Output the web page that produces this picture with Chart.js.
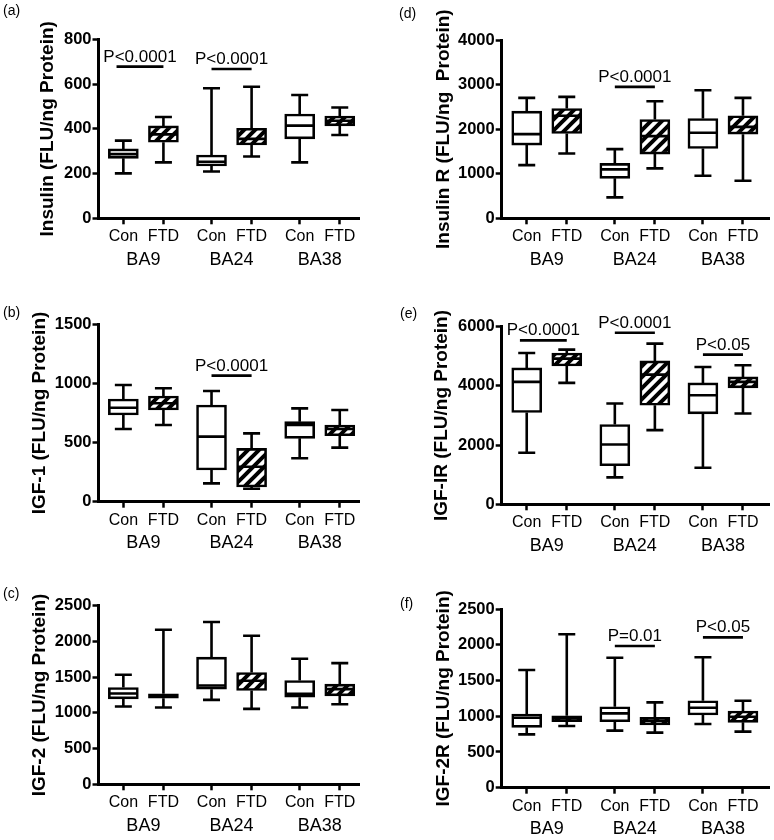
<!DOCTYPE html>
<html>
<head>
<meta charset="utf-8">
<script src="https://cdn.jsdelivr.net/npm/chart.js@4.4.1/dist/chart.umd.min.js"></script>
<style>
  body { margin: 0; background: #fff; }
  #wrap { position: relative; width: 774px; height: 840px; overflow: hidden; }
  .panel { position: absolute; width: 387px; height: 300px; }
  .tag { position: absolute; font: 14px "Liberation Sans", Arial, sans-serif; line-height: 16px; color: #000; }
</style>
</head>
<body>
<div id="wrap"></div>
<script>
const groups = ['BA9', 'BA24', 'BA38'];
const conditions = ['Con', 'FTD'];

// [min, q1, median, q3, max] for Con/FTD in BA9, BA24, BA38
const insulin = [
  [201, 268, 287, 310, 347], [250, 340, 375, 413, 453],
  [209, 234, 253, 283, 581], [276, 328, 355, 402, 588],
  [250, 355, 414, 466, 551], [372, 413, 436, 457, 495]
];
const igf1 = [
  [615, 733, 795, 868, 987], [648, 775, 832, 894, 959],
  [155, 268, 550, 818, 936], [110, 125, 296, 451, 578],
  [367, 536, 648, 677, 789], [457, 558, 615, 648, 775]
];
const igf2 = [
  [1089, 1196, 1270, 1355, 1533], [1075, 1206, 1240, 1266, 2164],
  [1182, 1332, 1383, 1780, 2271], [1056, 1313, 1449, 1565, 2079],
  [1075, 1220, 1266, 1453, 1757], [1121, 1238, 1332, 1402, 1696]
];
const insulinR = [
  [1194, 1642, 1888, 2403, 2701], [1455, 1903, 2300, 2463, 2724],
  [470, 896, 1097, 1231, 1552], [1119, 1440, 1843, 2216, 2627],
  [955, 1567, 1918, 2239, 2873], [843, 1888, 2052, 2299, 2701]
];
const igf1r = [
  [1742, 3101, 4135, 4607, 5112], [4101, 4674, 4921, 5112, 5225],
  [910, 1303, 2022, 2697, 3404], [2506, 3348, 4382, 4843, 5427],
  [1236, 3056, 3685, 4101, 4640], [3067, 3933, 4135, 4303, 4697]
];
const igf2r = [
  [746, 844, 979, 1031, 1646], [863, 923, 970, 1007, 2146],
  [798, 923, 1040, 1133, 1819], [770, 877, 933, 984, 1194],
  [891, 1017, 1119, 1217, 1824], [784, 914, 993, 1073, 1217]
];

// significance bars: box index from/to, height, label
const insulinP = [
  { from: 0, to: 1, y: 678, text: 'P<0.0001', lead: -0.17 },
  { from: 2, to: 3, y: 667, text: 'P<0.0001' }
];
const igf1P = [{ from: 2, to: 3, y: 1066, text: 'P<0.0001' }];
const insulinRP = [{ from: 2, to: 3, y: 2948, text: 'P<0.0001' }];
const igf1rP = [
  { from: 0, to: 1, y: 5539, text: 'P<0.0001', lead: -0.17 },
  { from: 2, to: 3, y: 5798, text: 'P<0.0001' },
  { from: 4, to: 5, y: 5056, text: 'P<0.05' }
];
const igf2rP = [
  { from: 2, to: 3, y: 1982, text: 'P=0.01' },
  { from: 4, to: 5, y: 2103, text: 'P<0.05' }
];

const FONT = '"Liberation Sans", Arial, sans-serif';
Chart.defaults.font.family = FONT;
Chart.defaults.color = '#000';

function boxX(i) { return Math.floor(i / 2) * 2.2 + i % 2; }

const hatch = (() => {
  const c = document.createElement('canvas');
  const n = 11;
  c.width = c.height = n;
  const g = c.getContext('2d');
  g.fillStyle = '#fff';
  g.fillRect(0, 0, n, n);
  g.strokeStyle = '#000';
  g.lineWidth = 4;
  g.beginPath();
  g.moveTo(-2, n + 2); g.lineTo(n + 2, -2);
  g.moveTo(-2, 2); g.lineTo(2, -2);
  g.moveTo(n - 2, n + 2); g.lineTo(n + 2, n - 2);
  g.stroke();
  return g.createPattern(c, 'repeat');
})();

const boxPlugin = {
  id: 'boxes',
  afterDatasetsDraw(chart) {
    const { ctx, scales: { x, y } } = chart;
    const opts = chart.options.plugins.boxes;
    ctx.save();
    ctx.strokeStyle = '#000';
    ctx.lineWidth = 2.6;
    opts.stats.forEach((s, i) => {
      const cx = x.getPixelForValue(boxX(i));
      const [mn, q1, md, q3, mx] = s.map(v => y.getPixelForValue(v));
      const cap = 8.5, half = 14;
      ctx.beginPath();
      ctx.moveTo(cx, q3); ctx.lineTo(cx, mx);
      ctx.moveTo(cx - cap, mx); ctx.lineTo(cx + cap, mx);
      ctx.moveTo(cx, q1); ctx.lineTo(cx, mn);
      ctx.moveTo(cx - cap, mn); ctx.lineTo(cx + cap, mn);
      ctx.moveTo(cx - half, md); ctx.lineTo(cx + half, md);
      ctx.stroke();
    });
    ctx.font = '17px ' + FONT;
    ctx.textAlign = 'center';
    ctx.textBaseline = 'alphabetic';
    ctx.fillStyle = '#000';
    opts.notes.forEach(n => {
      const x1 = x.getPixelForValue(boxX(n.from) + (n.lead || 0));
      const x2 = x.getPixelForValue(boxX(n.to));
      const yy = y.getPixelForValue(n.y);
      ctx.beginPath();
      ctx.moveTo(x1, yy); ctx.lineTo(x2, yy);
      ctx.stroke();
      ctx.fillText(n.text, (x1 + x2) / 2, yy - 5);
    });
    ctx.restore();
  }
};

const panels = [
  { tag: '(a)', title: 'Insulin (FLU/ng Protein)', stats: insulin, notes: insulinP, max: 800, step: 200, col: 0, row: 0, top: 39.3, bottom: 218.3, titleX: 48, tagX: 3, tagY: 2 },
  { tag: '(b)', title: 'IGF-1 (FLU/ng Protein)', stats: igf1, notes: igf1P, max: 1500, step: 500, col: 0, row: 1, top: 44.3, bottom: 221.7, titleX: 40, tagX: 3, tagY: 304 },
  { tag: '(c)', title: 'IGF-2 (FLU/ng Protein)', stats: igf2, notes: [], max: 2500, step: 500, col: 0, row: 2, top: 45.7, bottom: 224.3, titleX: 40, tagX: 3, tagY: 585 },
  { tag: '(d)', title: 'Insulin R (FLU/ng  Protein)', stats: insulinR, notes: insulinRP, max: 4000, step: 1000, col: 1, row: 0, top: 40, bottom: 218.3, titleX: 57, tagX: 399, tagY: 5 },
  { tag: '(e)', title: 'IGF-IR (FLU/ng Protein)', stats: igf1r, notes: igf1rP, max: 6000, step: 2000, col: 1, row: 1, top: 46.7, bottom: 224.3, titleX: 55, tagX: 400, tagY: 305 },
  { tag: '(f)', title: 'IGF-2R (FLU/ng Protein)', stats: igf2r, notes: igf2rP, max: 2500, step: 500, col: 1, row: 2, top: 49, bottom: 227.7, titleX: 57, tagX: 400, tagY: 595 }
];

const wrap = document.getElementById('wrap');

panels.forEach(p => {
  const div = document.createElement('div');
  div.className = 'panel';
  div.style.left = (p.col * 387) + 'px';
  div.style.top = (p.row * 280) + 'px';
  const cv = document.createElement('canvas');
  cv.width = 387;
  cv.height = 300;
  div.appendChild(cv);
  wrap.appendChild(div);

  const tag = document.createElement('div');
  tag.className = 'tag';
  tag.textContent = p.tag;
  tag.style.left = p.tagX + 'px';
  tag.style.top = p.tagY + 'px';
  wrap.appendChild(tag);

  const right = p.col === 1;
  const xMin = right ? -0.625 : -0.62;
  const xMax = right ? 6.05 : 5.88;

  new Chart(cv, {
    type: 'bar',
    data: {
      datasets: [{
        data: p.stats.map((s, i) => ({ x: boxX(i), y: [s[1], s[3]] })),
        backgroundColor: p.stats.map((s, i) => i % 2 ? hatch : '#fff'),
        borderColor: '#000',
        borderWidth: 2.6,
        borderSkipped: false,
        barThickness: 30
      }]
    },
    options: {
      responsive: false,
      animation: false,
      events: [],
      layout: { padding: { left: 0, right: right ? 5 : 28, top: p.top, bottom: 300 - p.bottom - 57 } },
      plugins: {
        legend: { display: false },
        tooltip: { enabled: false },
        boxes: { stats: p.stats, notes: p.notes }
      },
      scales: {
        x: {
          type: 'linear', position: 'bottom', min: xMin, max: xMax, offset: false,
          afterBuildTicks: s => { s.ticks = p.stats.map((_, i) => ({ value: boxX(i) })); },
          afterFit: s => { s.height = 27; },
          ticks: { callback: (v, i) => conditions[i % 2], autoSkip: false, maxRotation: 0, padding: 3, font: { size: 16 } },
          grid: { drawOnChartArea: false, offset: false, tickLength: 6, tickWidth: 2.5, tickColor: '#000' },
          border: { color: '#000', width: 3 }
        },
        x2: {
          type: 'linear', position: 'bottom', min: xMin, max: xMax, offset: false,
          afterBuildTicks: s => { s.ticks = groups.map((_, g) => ({ value: g * 2.2 + 0.5 })); },
          afterFit: s => { s.height = 30; },
          ticks: { callback: (v, i) => groups[i], autoSkip: false, maxRotation: 0, padding: 4, font: { size: 18 } },
          grid: { display: false, drawTicks: false },
          border: { display: false }
        },
        y: {
          min: 0, max: p.max,
          afterFit: s => { s.width = right ? 114.7 : 98.5; },
          ticks: { stepSize: p.step, padding: 1, font: { size: 16.5, weight: 'bold' }, callback: v => String(v) },
          title: { display: true, text: p.title, font: { size: 19, weight: 'bold' }, padding: { top: p.titleX - 11.4, bottom: 0 } },
          grid: { drawOnChartArea: false, tickLength: 6, tickWidth: 2.5, tickColor: '#000' },
          border: { color: '#000', width: 3 }
        }
      }
    },
    plugins: [boxPlugin]
  });
});
</script>
</body>
</html>
